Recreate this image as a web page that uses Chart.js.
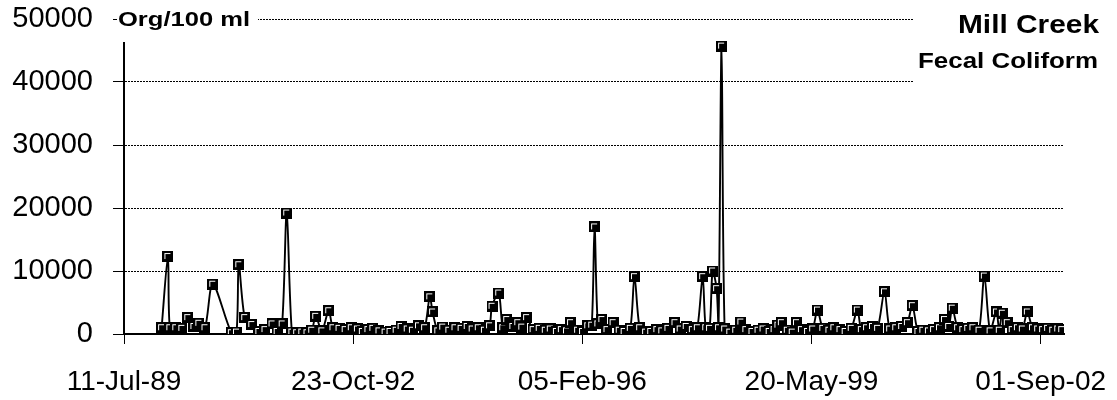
<!DOCTYPE html>
<html><head><meta charset="utf-8">
<script src="https://cdn.jsdelivr.net/npm/chart.js@4.4.0/dist/chart.umd.min.js"></script>
<style>html,body{margin:0;padding:0;background:#fff}#wrap{width:1117px;height:400px;position:relative}</style>
</head><body><div id="wrap"><canvas id="c" width="1117" height="400"></canvas></div>
<script>
const sampleDates = [
'1990-01-24','1990-02-26','1990-03-08','1990-04-08','1990-05-10','1990-06-10','1990-07-12','1990-08-07','1990-09-08','1990-10-19',
'1991-01-24','1991-02-20','1991-03-04','1991-04-04','1991-05-11','1991-06-17','1991-07-19','1991-08-25','1991-09-21','1991-10-17','1991-11-10','1991-12-07',
'1992-01-01','1992-01-28','1992-02-24','1992-03-20','1992-04-10','1992-05-12','1992-06-17','1992-07-09','1992-08-10','1992-09-11','1992-10-13','1992-11-14','1992-12-10',
'1993-01-08','1993-02-03','1993-03-07','1993-04-08','1993-05-04','1993-06-05','1993-07-01','1993-08-02','1993-08-29','1993-09-30','1993-11-01','1993-11-28','1993-12-13',
'1994-01-09','1994-02-04','1994-03-08','1994-04-09','1994-05-11','1994-06-12','1994-07-08','1994-08-09','1994-09-10','1994-10-07','1994-10-20','1994-11-24','1994-12-15',
'1995-01-05','1995-02-06','1995-03-04','1995-03-25','1995-04-19','1995-05-23','1995-06-24','1995-07-26','1995-08-21','1995-09-22','1995-10-18','1995-11-14','1995-12-05',
'1996-01-11','1996-02-06','1996-03-04','1996-03-25','1996-04-09','1996-04-26','1996-05-17','1996-06-13','1996-07-15','1996-08-16','1996-09-11','1996-10-13','1996-11-04','1996-12-01',
'1997-01-01','1997-01-28','1997-03-01','1997-03-27','1997-04-28','1997-06-04','1997-07-01','1997-08-02','1997-09-03','1997-09-29','1997-10-27','1997-11-12','1997-12-02','1997-12-18',
'1998-01-08','1998-01-18','1998-02-03','1998-02-19','1998-03-18','1998-04-18','1998-05-15','1998-06-10','1998-07-12','1998-08-13','1998-09-08','1998-10-10','1998-11-05','1998-11-25','1998-12-13',
'1999-01-13','1999-02-08','1999-03-02','1999-03-28','1999-04-29','1999-05-26','1999-06-20','1999-07-18','1999-08-19','1999-09-14','1999-10-16','1999-11-12','1999-12-14',
'2000-01-15','2000-02-05','2000-03-03','2000-04-03','2000-04-30','2000-06-05','2000-07-02','2000-08-03','2000-09-03','2000-10-03','2000-10-29','2000-11-27','2000-12-23',
'2001-01-21','2001-02-17','2001-03-20','2001-04-15','2001-05-07','2001-05-26','2001-06-23','2001-07-20','2001-08-15','2001-09-11','2001-10-13','2001-11-10','2001-12-10',
'2002-01-12','2002-01-27','2002-02-12','2002-03-10','2002-04-05','2002-05-02','2002-05-28','2002-06-23','2002-07-20','2002-08-16','2002-09-11','2002-10-07','2002-11-03','2002-11-29','2002-12-20'
];
const fecalColiform = [
1000,12300,1000,1000,900,2600,1200,1700,1000,7900,
200,300,11000,2600,1500,400,700,1600,400,1600,19200,300,
200,300,200,600,2800,500,3700,1000,900,700,1000,800,400,
700,900,500,300,400,600,1200,800,600,1300,1000,5900,3500,
500,1100,600,1000,900,1200,800,1000,600,1300,4400,6500,1000,
2300,1200,1800,1100,2600,700,900,600,800,400,700,500,1800,
600,400,1300,1400,17000,1600,2300,700,1800,600,400,900,9100,1000,
300,400,700,500,900,1800,800,1200,700,1000,9100,1000,900,10000,
7200,1000,45700,800,300,600,1900,700,400,600,800,400,700,1400,1800,
600,300,1800,700,400,800,3800,900,600,1000,700,400,900,
3800,700,1000,1200,900,6700,800,1000,1200,1800,4500,400,600,
500,700,1000,2300,1200,4100,1000,700,900,1000,600,9200,500,
3500,600,3300,1800,700,1000,800,3500,1000,800,700,900,600,800,700
];
const tickLabels = ['11-Jul-89','23-Oct-92','05-Feb-96','20-May-99','01-Sep-02'];
const yTickValues = [0,10000,20000,30000,40000,50000];
const axisStart = '1989-07-11';
const axisEnd = '2003-01-01';
const chartTitle = 'Mill Creek';
const chartSubtitle = 'Fecal Coliform';
const unitLabel = 'Org/100 ml';

const MONTHS = ['Jan','Feb','Mar','Apr','May','Jun','Jul','Aug','Sep','Oct','Nov','Dec'];
function isoToMs(s){const p=s.split('-').map(Number);return Date.UTC(p[0],p[1]-1,p[2]);}
const startMs = isoToMs(axisStart);
function dayOf(s){return Math.round((isoToMs(s)-startMs)/86400000);}
function labelToDay(l){const p=l.split('-');let y=+p[2];y+= y<50?2000:1900;return Math.round((Date.UTC(y,MONTHS.indexOf(p[1]),+p[0])-startMs)/86400000);}
const tickDays = tickLabels.map(labelToDay);

const marker = document.createElement('canvas');
marker.width=11; marker.height=11;
(function(){const g=marker.getContext('2d');g.fillStyle='#000';g.fillRect(0,0,11,11);g.fillStyle='#fff';g.fillRect(2,2,6,1);g.fillRect(2,2,1,6);})();

const FONT='"Liberation Sans", Arial, sans-serif';
function drawText(ctx,text,left,right,baseline,size){
  ctx.save();
  ctx.font='bold '+size+'px '+FONT;
  const w=ctx.measureText(text).width;
  ctx.translate(left,baseline);
  ctx.scale((right-left)/w,1);
  ctx.fillStyle='#000';ctx.textBaseline='alphabetic';ctx.textAlign='left';
  ctx.fillText(text,0,0);
  ctx.restore();
}
const titlePlugin={id:'titles',afterDraw(chart){
  const ctx=chart.ctx;
  ctx.save();ctx.fillStyle='#fff';
  ctx.fillRect(913,0,204,92);
  ctx.fillRect(117,0,141,42);
  ctx.restore();
  drawText(ctx,unitLabel,118,250,26,20);
  drawText(ctx,chartTitle,958,1099,33,26);
  drawText(ctx,chartSubtitle,918,1098,68,22);
}};

new Chart(document.getElementById('c'),{
  type:'line',
  data:{datasets:[{
    data:sampleDates.map((d,i)=>({x:dayOf(d),y:fecalColiform[i]})),
    borderColor:'#000',borderWidth:1.9,tension:0.3,fill:false,
    pointStyle:marker,pointRadius:5,pointBackgroundColor:'#000',pointBorderColor:'#000'
  }]},
  options:{
    animation:false,responsive:false,
    plugins:{legend:{display:false},tooltip:{enabled:false}},
    layout:{padding:{left:0,right:53,top:19,bottom:0}},
    scales:{
      x:{type:'linear',min:0,max:dayOf(axisEnd),
        afterBuildTicks:s=>{s.ticks=tickDays.map(v=>({value:v}));},
        afterFit:s=>{s.height=66;s.paddingLeft=0;s.paddingRight=0;},
        ticks:{autoSkip:false,maxRotation:0,minRotation:0,padding:21,color:'#000',
          font:{family:FONT,size:28},
          callback:v=>{const i=tickDays.indexOf(v);return i>=0?tickLabels[i]:'';}},
        grid:{display:true,drawOnChartArea:false,drawTicks:true,tickLength:10,color:'#000',lineWidth:1},
        border:{display:true,color:'#000',width:2}
      },
      y:{min:0,max:50000,
        afterBuildTicks:s=>{s.ticks=yTickValues.map(v=>({value:v}));},
        afterFit:s=>{s.width=124;s.paddingTop=0;s.paddingBottom=0;},
        ticks:{padding:20,color:'#000',font:{family:FONT,size:29},callback:v=>String(v)},
        grid:{color:'#000',lineWidth:1,tickLength:11,drawTicks:true},
        border:{display:true,color:'#000',width:2,dash:[2,1]}
      }
    }
  },
  plugins:[titlePlugin]
});
</script></body></html>
